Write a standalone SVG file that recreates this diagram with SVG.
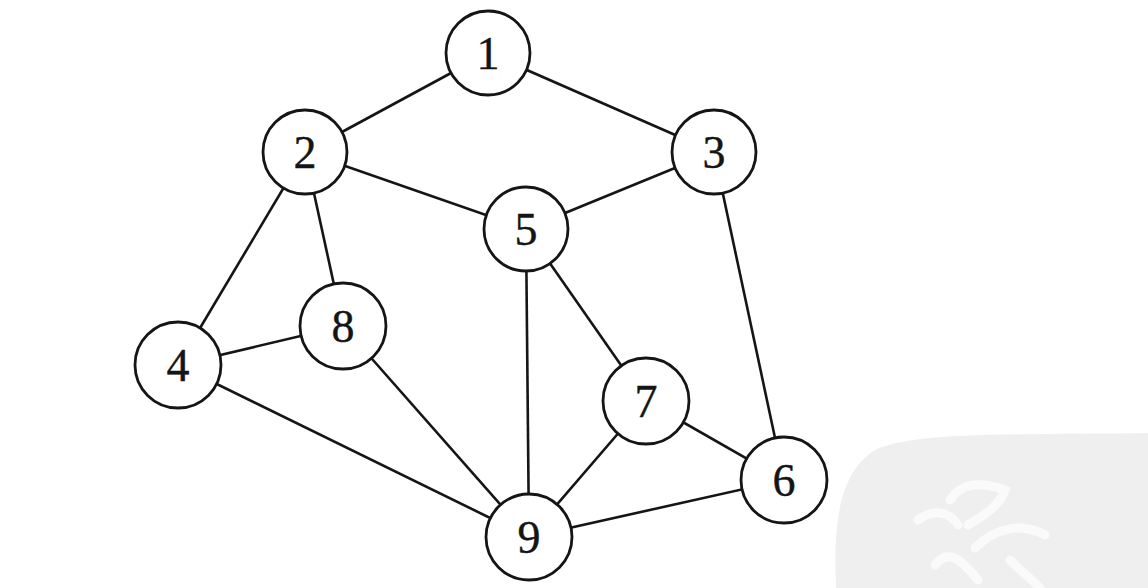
<svg xmlns="http://www.w3.org/2000/svg" width="1148" height="588" viewBox="0 0 1148 588">
<style>
.n circle{fill:#fff;stroke:#151515;stroke-width:2.8}
.n text{font-family:"Liberation Serif","Times New Roman",serif;font-size:46px;fill:#151515;text-anchor:middle;stroke:#151515;stroke-width:0.4}
#edges line{stroke:#151515;stroke-width:2.6}
</style>
<rect width="1148" height="588" fill="#fff"/>
<g id="watermark">
<path d="M836 588 C834 530 836 475 875 450 C915 432 1000 435 1148 433 L1148 588 Z" fill="#efefef"/>
<path d="M918 520 C935 508 950 512 958 525 M950 500 C960 485 975 480 1005 490 C1000 505 985 515 968 525 M975 548 C995 528 1020 522 1045 535 M935 565 C948 548 962 560 978 580 M1010 560 C1020 570 1030 578 1040 588" fill="none" stroke="#fafafa" stroke-width="9" stroke-linecap="round"/>
</g>
<g id="edges">
<line x1="488" y1="53" x2="305" y2="152"/>
<line x1="488" y1="53" x2="714" y2="152"/>
<line x1="305" y1="152" x2="526" y2="229"/>
<line x1="714" y1="152" x2="526" y2="229"/>
<line x1="305" y1="152" x2="178" y2="365"/>
<line x1="305" y1="152" x2="343" y2="326"/>
<line x1="178" y1="365" x2="343" y2="326"/>
<line x1="178" y1="365" x2="529" y2="537"/>
<line x1="343" y1="326" x2="529" y2="537"/>
<line x1="526" y1="229" x2="529" y2="537"/>
<line x1="526" y1="229" x2="646" y2="401"/>
<line x1="714" y1="152" x2="784" y2="480"/>
<line x1="646" y1="401" x2="784" y2="480"/>
<line x1="646" y1="401" x2="529" y2="537"/>
<line x1="529" y1="537" x2="784" y2="480"/>
</g>
<g id="node1" class="n"><circle cx="488" cy="53" r="42"/><text x="488" y="69">1</text></g>
<g id="node2" class="n"><circle cx="305" cy="152" r="42"/><text x="305" y="168">2</text></g>
<g id="node3" class="n"><circle cx="714" cy="152" r="42"/><text x="714" y="168">3</text></g>
<g id="node5" class="n"><circle cx="526" cy="229" r="42"/><text x="526" y="245">5</text></g>
<g id="node4" class="n"><circle cx="178" cy="365" r="43"/><text x="178" y="381">4</text></g>
<g id="node8" class="n"><circle cx="343" cy="326" r="43"/><text x="343" y="342">8</text></g>
<g id="node7" class="n"><circle cx="646" cy="401" r="43"/><text x="646" y="417">7</text></g>
<g id="node6" class="n"><circle cx="784" cy="480" r="43"/><text x="784" y="496">6</text></g>
<g id="node9" class="n"><circle cx="529" cy="537" r="43"/><text x="529" y="553">9</text></g>
</svg>
